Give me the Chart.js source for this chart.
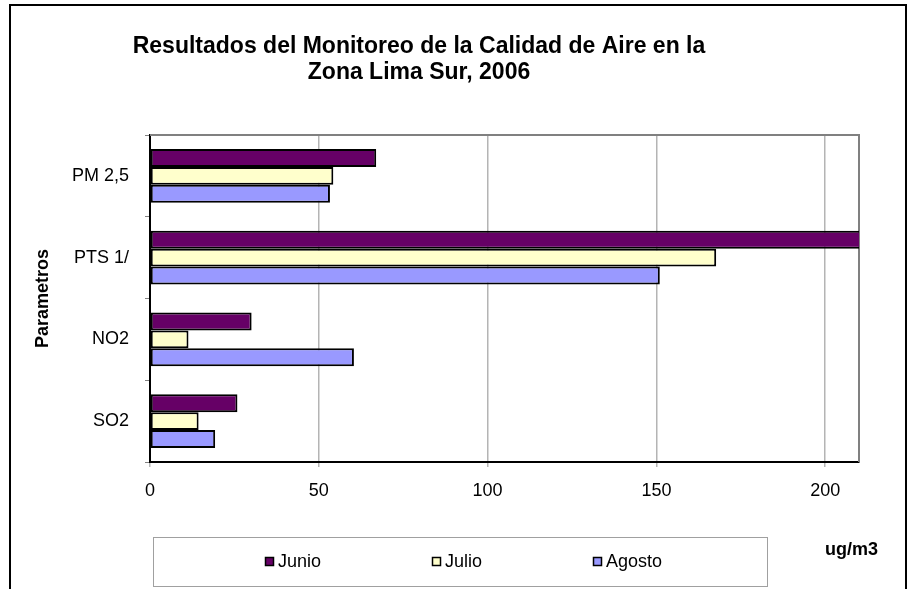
<!DOCTYPE html>
<html>
<head>
<meta charset="utf-8">
<script src="https://cdn.jsdelivr.net/npm/chart.js@4"></script>
<style>
  html, body { margin: 0; padding: 0; background: #fff; }
  canvas { display: block; }
</style>
</head>
<body>
<canvas id="myChart" width="911" height="589"></canvas>
<script>
  // data
  const categories = ['PM 2,5', 'PTS 1/', 'NO2', 'SO2']
  const seriesNames = ['Junio', 'Julio', 'Agosto']
  const junio = [67.0, 224, 30.1, 25.9]
  const julio = [54.3, 167.7, 11.4, 14.4]
  const agosto = [53.3, 151.0, 60.4, 19.3]
  const xTicks = [0, 50, 100, 150, 200]
  const colors = ['#660066', '#FFFFCC', '#9999FF']

  const font = 'Liberation Sans, Arial, sans-serif'
  const legendX = [265, 432, 593]

  const frame = {
    id: 'frame',
    beforeDatasetsDraw(chart) {
      const { ctx, chartArea: a } = chart
      ctx.save()
      ctx.strokeStyle = '#808080'
      ctx.lineWidth = 2
      ctx.beginPath()
      ctx.moveTo(a.left, a.top)
      ctx.lineTo(a.right, a.top)
      ctx.lineTo(a.right, a.bottom)
      ctx.stroke()
      ctx.restore()
    },
    afterDraw(chart) {
      const ctx = chart.ctx
      ctx.save()
      // outer border
      ctx.strokeStyle = '#000'
      ctx.lineWidth = 2
      ctx.beginPath()
      ctx.moveTo(10, 600)
      ctx.lineTo(10, 5)
      ctx.lineTo(906, 5)
      ctx.lineTo(906, 600)
      ctx.stroke()

      // legend box
      ctx.strokeStyle = '#a0a0a0'
      ctx.lineWidth = 1
      ctx.strokeRect(153.5, 537.5, 614, 49)
      ctx.font = '18px ' + font
      ctx.textBaseline = 'middle'
      ctx.textAlign = 'left'
      chart.data.datasets.forEach((ds, i) => {
        ctx.fillStyle = ds.backgroundColor
        ctx.fillRect(legendX[i], 557, 9, 9)
        ctx.strokeStyle = '#000'
        ctx.lineWidth = 1.5
        ctx.strokeRect(legendX[i] + 0.5, 557.5, 8, 8)
        ctx.fillStyle = '#000'
        ctx.fillText(ds.label, legendX[i] + 13, 562)
      })

      // units
      ctx.font = 'bold 18px ' + font
      ctx.fillText('ug/m3', 825, 550)
      ctx.restore()
    }
  }

  const ctx = document.getElementById('myChart')
  // eslint-disable-next-line no-unused-vars
  const myChart = new Chart(ctx, {
    type: 'bar',
    data: {
      labels: categories,
      datasets: [junio, julio, agosto].map((d, i) => ({
        label: seriesNames[i],
        data: d,
        backgroundColor: colors[i],
        borderColor: '#000',
        borderWidth: 2,
        borderSkipped: false,
        barPercentage: 1,
        categoryPercentage: 0.66
      }))
    },
    options: {
      indexAxis: 'y',
      responsive: false,
      animation: false,
      layout: { padding: { left: -21, right: 52, top: 0, bottom: 67 } },
      plugins: {
        legend: { display: false },
        tooltip: { enabled: false },
        title: {
          display: true,
          text: ['Resultados del Monitoreo de la Calidad de Aire en la', 'Zona Lima Sur, 2006'],
          color: '#000',
          font: { family: font, size: 23, weight: 'bold', lineHeight: 26 / 23 },
          padding: { top: 34, bottom: 49 }
        }
      },
      scales: {
        x: {
          min: 0,
          max: 210,
          ticks: { stepSize: 50, color: '#000', font: { family: font, size: 18 }, padding: 13, maxRotation: 0 },
          afterBuildTicks: (s) => { s.ticks = xTicks.map(v => ({ value: v })) },
          afterFit: (s) => { s.height = 60 },
          grid: { color: '#b4b4b4', lineWidth: 1.5, tickLength: 5 },
          border: { color: '#000', width: 2 }
        },
        y: {
          ticks: { color: '#000', font: { family: font, size: 18 }, padding: 16 },
          afterFit: (s) => { s.width = 171 },
          grid: { drawOnChartArea: false, color: '#808080', tickLength: 5, offset: true },
          border: { color: '#000', width: 2 },
          title: {
            display: true,
            text: 'Parametros',
            color: '#000',
            font: { family: font, size: 18, weight: 'bold' },
            padding: { top: 53, bottom: 0 }
          }
        }
      }
    },
    plugins: [frame]
  })
</script>
</body>
</html>
